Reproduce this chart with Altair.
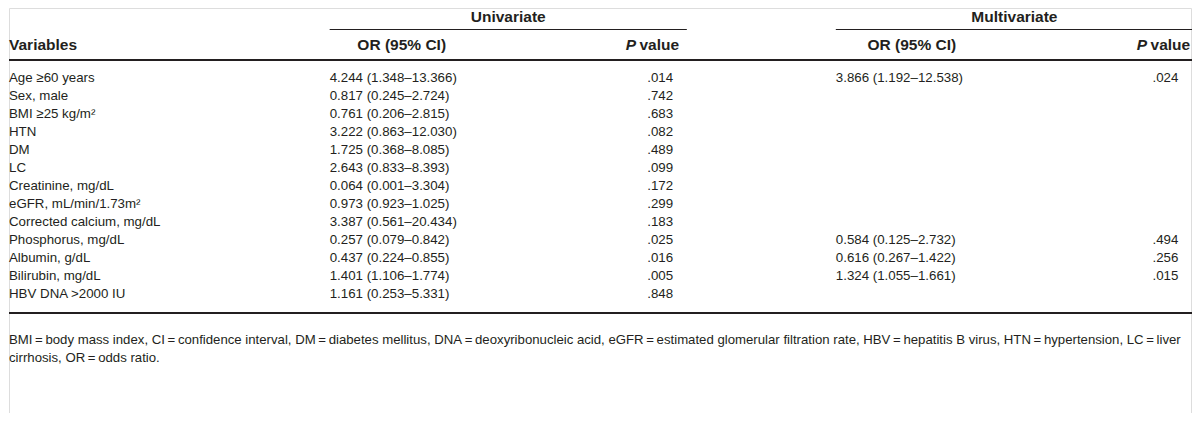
import altair as alt
import pandas as pd

variables = ["Age \u226560 years", "Sex, male", "BMI \u226525 kg/m\u00b2", "HTN", "DM", "LC",
             "Creatinine, mg/dL", "eGFR, mL/min/1.73m\u00b2", "Corrected calcium, mg/dL",
             "Phosphorus, mg/dL", "Albumin, g/dL", "Bilirubin, mg/dL", "HBV DNA >2000 IU"]
uni_or = ["4.244 (1.348\u201313.366)", "0.817 (0.245\u20132.724)", "0.761 (0.206\u20132.815)",
          "3.222 (0.863\u201312.030)", "1.725 (0.368\u20138.085)", "2.643 (0.833\u20138.393)",
          "0.064 (0.001\u20133.304)", "0.973 (0.923\u20131.025)", "3.387 (0.561\u201320.434)",
          "0.257 (0.079\u20130.842)", "0.437 (0.224\u20130.855)", "1.401 (1.106\u20131.774)",
          "1.161 (0.253\u20135.331)"]
uni_p = [".014", ".742", ".683", ".082", ".489", ".099", ".172", ".299", ".183",
         ".025", ".016", ".005", ".848"]
multi_or = ["3.866 (1.192\u201312.538)", "", "", "", "", "", "", "", "",
            "0.584 (0.125\u20132.732)", "0.616 (0.267\u20131.422)", "1.324 (1.055\u20131.661)", ""]
multi_p = [".024", "", "", "", "", "", "", "", "", ".494", ".256", ".015", ""]

group_titles = ["Univariate", "Multivariate"]
col_titles = ["Variables", "OR (95% CI)", "P", "value"]
footnote = [
    "BMI\u2009=\u2009body mass index, CI\u2009=\u2009confidence interval, DM\u2009=\u2009diabetes mellitus, DNA\u2009=\u2009deoxyribonucleic acid, eGFR\u2009=\u2009estimated glomerular filtration rate, HBV\u2009=\u2009hepatitis B virus, HTN\u2009=\u2009hypertension, LC\u2009=\u2009liver",
    "cirrhosis, OR\u2009=\u2009odds ratio.",
]

# ---------------- layout helpers ----------------
W, H = 1184, 405
S = W / 1200.0
FONT = "Liberation Sans"
TXT = "#231f20"
BODY = 13.3
HEAD = 15.5
FOOT = 13.2


def sx(v):
    return v * S


def sy(v):
    return v


# ---------------- data table ----------------
rows = []
for i in range(len(variables)):
    rows.append({"row": i, "col": "var", "text": variables[i]})
    rows.append({"row": i, "col": "uor", "text": uni_or[i]})
    rows.append({"row": i, "col": "up", "text": uni_p[i]})
    if multi_or[i]:
        rows.append({"row": i, "col": "mor", "text": multi_or[i]})
    if multi_p[i]:
        rows.append({"row": i, "col": "mp", "text": multi_p[i]})
cells = pd.DataFrame(rows)

yscale = alt.Scale(domain=[0, len(variables) - 1], range=[sy(70), sy(286)])


def column(name, x, align):
    return alt.Chart(cells).transform_filter(alt.datum.col == name).mark_text(
        align=align, baseline="middle", font=FONT, fontSize=BODY, color=TXT
    ).encode(
        x=alt.value(sx(x)),
        y=alt.Y("row:Q", scale=yscale, axis=None),
        text="text:N",
    )


cols = [
    column("var", 0, "left"),
    column("uor", 325, "left"),
    column("up", 660, "center"),
    column("mor", 838, "left"),
    column("mp", 1172, "center"),
]

one = pd.DataFrame({"a": [0]})


def label(txt, x, y, align="left", size=HEAD, weight="bold", style="normal"):
    return alt.Chart(one).mark_text(
        align=align, baseline="middle", font=FONT, fontSize=size, fontWeight=weight,
        fontStyle=style, color=TXT
    ).encode(x=alt.value(sx(x)), y=alt.value(sy(y)), text=alt.value(txt))


def hrule(x1, x2, y, w):
    return alt.Chart(one).mark_rule(color="#231f20", strokeWidth=w).encode(
        x=alt.value(sx(x1)), x2=alt.value(sx(x2)), y=alt.value(sy(y))
    )


headers = [
    label(group_titles[0], 506, 9, align="center"),
    label(group_titles[1], 1019, 9, align="center"),
    label(col_titles[0], 0, 37),
    label(col_titles[1], 398, 37, align="center"),
    label(col_titles[1], 915, 37, align="center"),
    label(col_titles[2], 625, 37, style="italic"),
    label(col_titles[3], 639, 37),
    label(col_titles[2], 1143, 37, style="italic"),
    label(col_titles[3], 1157, 37),
    label(footnote[0], 0, 332, size=FOOT, weight="normal"),
    label(footnote[1], 0, 350, size=FOOT, weight="normal"),
]

rules = [
    hrule(325, 687, 21.5, 1),
    hrule(838, 1200, 21.5, 1),
    hrule(0, 1200, 52, 2),
    hrule(0, 1200, 305, 2),
]

chart = alt.layer(*cols, *headers, *rules).properties(
    width=W, height=H, padding=0,
    autosize=alt.AutoSizeParams(type="fit", contains="padding"),
).configure_view(stroke=None).configure(background="white")

chart.save("out.html", embed_options={"renderer": "svg", "actions": False})
